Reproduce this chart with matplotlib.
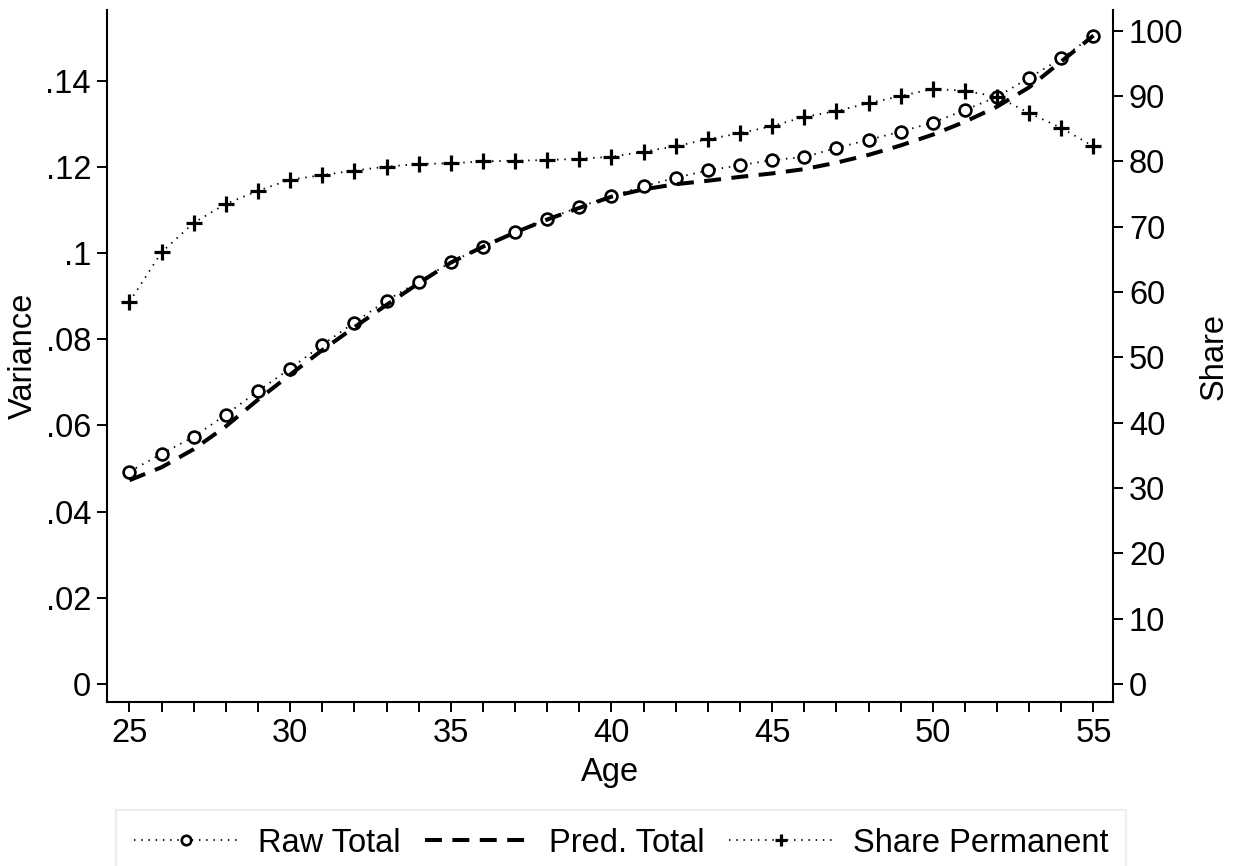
import matplotlib
matplotlib.use("Agg")
import matplotlib.pyplot as plt
import numpy as np

plt.rcParams['font.family'] = ['Liberation Sans', 'DejaVu Sans']

# ---- data ----
ages = list(range(25, 56))
raw_total = [0.0493, 0.0534, 0.0574, 0.0625, 0.0680, 0.0732, 0.0787, 0.0839,
             0.0890, 0.0934, 0.0979, 0.1015, 0.1048, 0.1079, 0.1107, 0.1133,
             0.1155, 0.1175, 0.1192, 0.1204, 0.1216, 0.1223, 0.1244, 0.1263,
             0.1282, 0.1303, 0.1332, 0.1363, 0.1407, 0.1452, 0.1505]
pred_total = [0.0473, 0.0503, 0.0545, 0.0598, 0.0660, 0.0718, 0.0775, 0.0828,
              0.0880, 0.0930, 0.0978, 0.1015, 0.1048, 0.1078, 0.1105, 0.1131,
              0.1148, 0.1160, 0.1168, 0.1177, 0.1185, 0.1195, 0.1210, 0.1228,
              0.1250, 0.1275, 0.1305, 0.1340, 0.1385, 0.1445, 0.1505]
share_perm = [58.5, 66.1, 70.6, 73.5, 75.5, 77.2, 77.9, 78.6, 79.2, 79.6,
              79.7, 80.0, 80.1, 80.2, 80.4, 80.7, 81.5, 82.3, 83.4, 84.3,
              85.4, 86.8, 87.7, 88.9, 90.0, 91.1, 90.8, 89.9, 87.4, 85.1, 82.3]

x_ticks = [25, 30, 35, 40, 45, 50, 55]
x_minor = list(range(25, 56))
left_ticks = [0, 0.02, 0.04, 0.06, 0.08, 0.10, 0.12, 0.14]
left_labels = ['0', '.02', '.04', '.06', '.08', '.1', '.12', '.14']
right_ticks = [0, 10, 20, 30, 40, 50, 60, 70, 80, 90, 100]
labels = ['Raw Total', 'Pred. Total', 'Share Permanent']

W, H = 1241, 866
FS = 23.5
fig = plt.figure(figsize=(W / 100, H / 100), dpi=100)
fig.patch.set_facecolor('white')
ax = fig.add_axes([107 / W, 164 / H, 1006 / W, 692 / H])
ax2 = ax.twinx()

dot = (0, (0.8, 3.2))
l1, = ax.plot(ages, raw_total, color='black', lw=1.3, linestyle=dot,
              marker='o', markersize=8.5, markerfacecolor='white',
              markeredgecolor='black', markeredgewidth=1.9, zorder=3)
l2, = ax.plot(ages, pred_total, color='black', lw=2.9, linestyle=(0, (4.2, 2.6)),
              dash_capstyle='butt', zorder=4)
l3, = ax2.plot(ages, share_perm, color='black', lw=1.3, linestyle=dot,
               marker='+', markersize=11, markeredgewidth=2.3, zorder=3)

ax.set_xlim(24.30, 55.607)
ax.set_ylim(-0.00418, 0.15643)
ax2.set_ylim(-2.755, 103.17)

for a in (ax, ax2):
    a.spines['top'].set_visible(False)
    for s in a.spines.values():
        s.set_linewidth(1.5)
ax.spines['right'].set_visible(False)
ax2.spines['left'].set_visible(False)
ax2.spines['bottom'].set_visible(False)

ax.set_xticks(x_ticks)
ax.set_xticks(x_minor, minor=True)
ax.set_xticklabels([str(t) for t in x_ticks])
ax.set_yticks(left_ticks)
ax.set_yticklabels(left_labels)
ax2.set_yticks(right_ticks)
ax2.set_yticklabels([str(t) for t in right_ticks])

ax.tick_params(axis='both', which='both', direction='out', length=7.5, width=1.4,
               labelsize=FS, pad=4, color='black')
ax.tick_params(axis='y', which='minor', left=False)
ax2.tick_params(axis='y', direction='out', length=7.5, width=1.4, labelsize=FS, pad=4)

ax.set_xlabel('Age', fontsize=FS, labelpad=6)
ax.set_ylabel('Variance', fontsize=FS, labelpad=4.5)
ax2.set_ylabel('Share', fontsize=FS, labelpad=11)

leg = fig.legend([l1, l2, l3], labels, ncol=3, loc='center',
                 bbox_to_anchor=(621 / W, 23 / H), fontsize=FS, frameon=True,
                 fancybox=False, edgecolor='#e2eded', handlelength=3.2,
                 handletextpad=0.6, columnspacing=0.75, borderpad=0.55,
                 numpoints=1, markerscale=0.8)
leg.get_frame().set_linewidth(1.5)

fig.savefig('out.png', dpi=100, facecolor='white')
